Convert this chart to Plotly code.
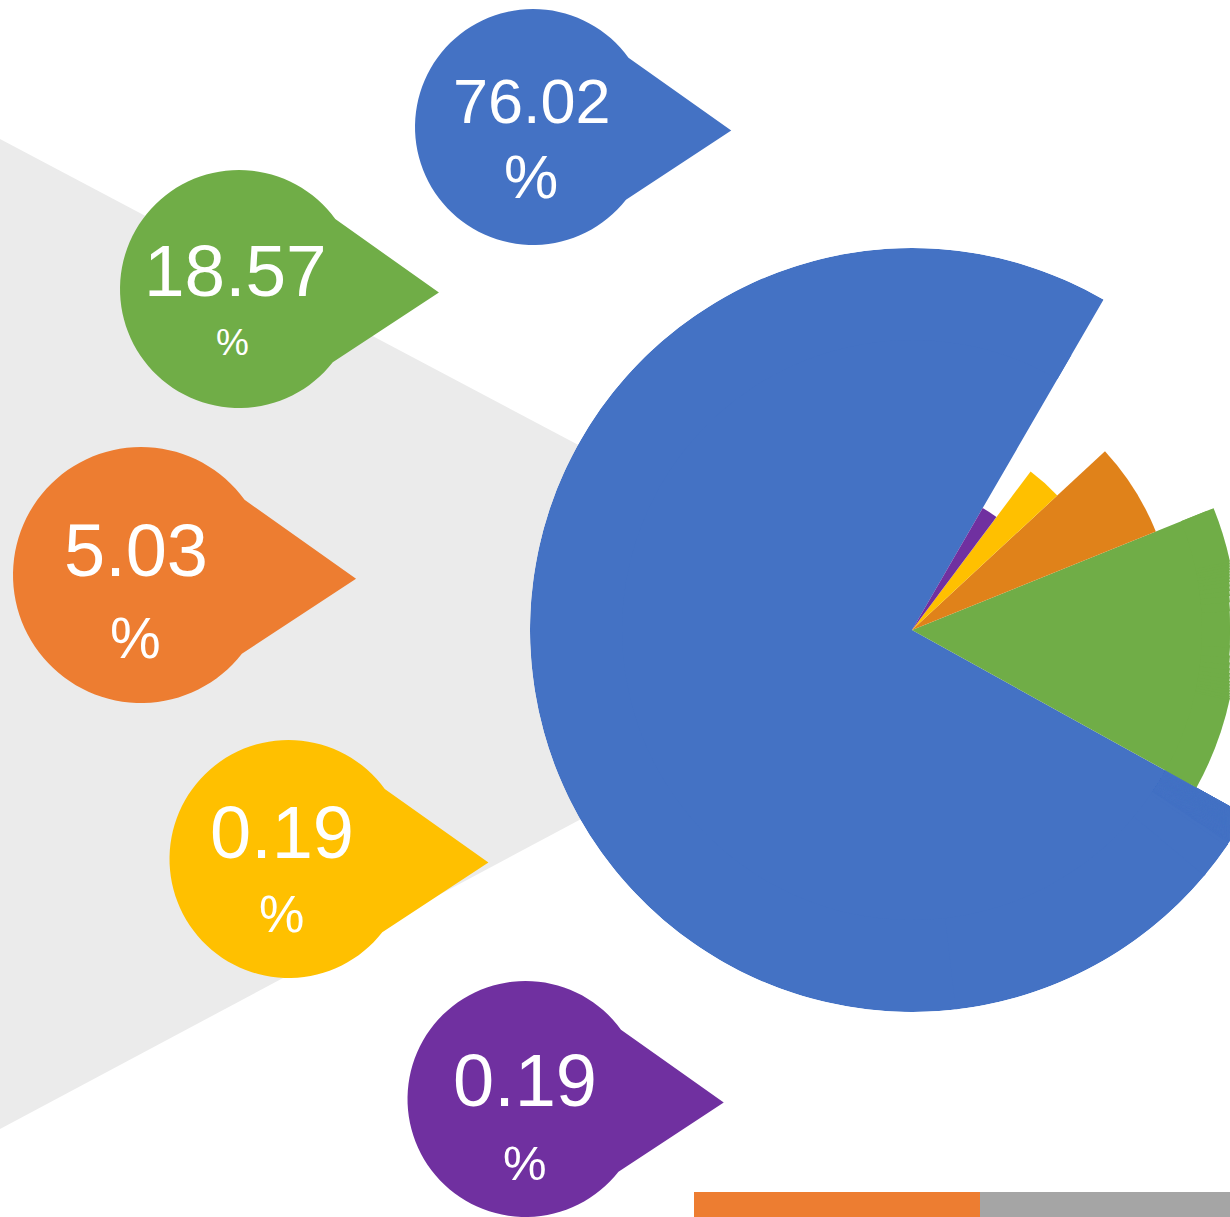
import math
import plotly.graph_objects as go

# ---------------- data ----------------
categories = ["Segment 1", "Segment 2", "Segment 3", "Segment 4", "Segment 5"]
shares = [76.02, 18.57, 5.03, 0.19, 0.19]
unit = "%"

# ---------------- styling / layout constants ----------------
W, H = 1230, 1217
slice_colors = ["#4472C4", "#70AD47", "#E0821A", "#FFC000", "#7030A0"]
pin_colors = ["#4472C4", "#70AD47", "#ED7D31", "#FFC000", "#7030A0"]
# drawn angular span (deg) and radius (px) of each sector in the graphic
slice_span_deg = [271.1, 51.0, 20.8, 10.4, 6.7]
slice_radius_px = [382, 326, 263, 198, 141]
ccw_order = [1, 2, 3, 4, 0]      # drawing order counter-clockwise
start_angle = -29.0              # where the first (green) sector begins
CX, CY = 912, 630                # pie centre in pixels

# label pins: centre x, centre y, radius (px)
pins = [(533, 127, 118), (239, 289, 119), (141, 575, 128), (288.5, 859, 119), (525.5, 1099, 118)]
# label text: (x, y, size) for the number line and the % line
num_pos = [(532, 101, 63), (235, 271, 73), (136, 550, 74), (282, 832, 74), (525, 1080, 74)]
pct_pos = [(531, 177, 61), (232, 343, 37), (135, 638, 57), (281, 914, 51), (525, 1163, 49)]

FONT = "Arial, Liberation Sans, sans-serif"
EDGE = W - CX - 0.01     # room between pie centre and right page edge (px)
PAD = 0.2                # angular overlap between neighbouring frames (deg)
TOL = 0.8                # allowed gap at the page edge (px)
OUTER_BASE = 290         # extension frames only draw the outer ring from here


def px(x, y):
    return f"{x / W:.5f},{1 - y / H:.5f}"


def clamp01(v):
    return min(1.0, max(0.0, v))


# angular positions of the sectors
theta = [0.0] * len(shares)
a = start_angle
for i in ccw_order:
    theta[i] = a + slice_span_deg[i] / 2
    a += slice_span_deg[i]


def sector_bbox(s0, s1):
    """unit-circle bounding box of a polar sector (same rule as plotly.js)"""
    arc = s1 - s0
    a0 = s0 % 360
    a1 = a0 + arc
    ax0, ay0 = math.cos(math.radians(a0)), math.sin(math.radians(a0))
    ax1, ay1 = math.cos(math.radians(a1)), math.sin(math.radians(a1))
    if (a0 <= 90 <= a1) or (a0 > 90 and a1 >= 450):
        y1 = 1
    elif ay0 <= 0 and ay1 <= 0:
        y1 = 0
    else:
        y1 = max(ay0, ay1)
    if (a0 <= 180 <= a1) or (a0 > 180 and a1 >= 540):
        x0 = -1
    elif ax0 >= 0 and ax1 >= 0:
        x0 = 0
    else:
        x0 = min(ax0, ax1)
    if (a0 <= 270 <= a1) or (a0 > 270 and a1 >= 630):
        y0 = -1
    elif ay0 >= 0 and ay1 >= 0:
        y0 = 0
    else:
        y0 = min(ay0, ay1)
    if a1 >= 360:
        x1 = 1
    elif ax0 <= 0 and ax1 <= 0:
        x1 = 0
    else:
        x1 = max(ax0, ax1)
    return x0, y0, x1, y1


def frame_radius(r, s0, s1):
    """largest polar frame for sector [s0,s1] that still fits left of the page edge"""
    x1 = sector_bbox(s0, s1)[2]
    return r if x1 <= 0 else min(r, EDGE / x1)


def needed(r, t):
    """visible radius of a slice of radius r at angle t (page edge cuts it)"""
    c = math.cos(math.radians(t))
    return r if c <= 0 else min(r, EDGE / c)


def polar_layout(R, sector):
    x0, y0, x1, y1 = sector_bbox(*sector)
    return dict(
        domain=dict(x=[clamp01((CX + x0 * R) / W), clamp01((CX + x1 * R) / W)],
                    y=[clamp01(1 - (CY - y0 * R) / H), clamp01(1 - (CY - y1 * R) / H)]),
        sector=list(sector),
        bgcolor="rgba(0,0,0,0)",
        angularaxis=dict(visible=False, direction="counterclockwise", rotation=0,
                         showgrid=False, showline=False),
        radialaxis=dict(visible=False, range=[0, R], showgrid=False, showline=False),
        bargap=0,
    )


# The pie runs off the right page edge, so it is drawn in several polar frames:
# one full frame holding every slice (cut at the page edge), plus sector frames
# that add the outer ring of the slices reaching beyond it.
frames = [((0, 360), EDGE, list(range(len(shares))), 0)]
for i in range(len(shares)):
    r = slice_radius_px[i]
    if r <= EDGE:
        continue
    a0 = theta[i] - slice_span_deg[i] / 2
    a1 = theta[i] + slice_span_deg[i] / 2
    s = a0
    while s < a1 - 1e-6:
        s1 = a1
        while True:
            R = frame_radius(r, s - PAD, s1 + PAD)
            gap = max(needed(r, s), needed(r, s1)) - R
            if gap <= TOL or s1 - s <= 0.05:
                break
            s1 = s + (s1 - s) * 0.8
        frames.append(((s - PAD, s1 + PAD), R, [i], OUTER_BASE))
        s = s1

fig = go.Figure()
layout_polars = {}
for k, (sector, R, idx, base) in enumerate(frames):
    name = "polar" if k == 0 else f"polar{k + 1}"
    fig.add_trace(go.Barpolar(
        r=[slice_radius_px[i] - base for i in idx],
        base=base,
        theta=[theta[i] for i in idx],
        width=[slice_span_deg[i] for i in idx],
        marker=dict(color=[slice_colors[i] for i in idx], line=dict(width=0)),
        customdata=[shares[i] for i in idx],
        text=[categories[i] for i in idx],
        hovertemplate="%{text}: %{customdata:.2f}%<extra></extra>",
        subplot=name,
        showlegend=False,
    ))
    layout_polars[name] = polar_layout(R, sector)

shapes = []
# background triangle
shapes.append(dict(type="path", xref="paper", yref="paper", layer="below",
                   path=f"M{px(0, 139)} L{px(0, 1129)} L{px(932, 632)} Z",
                   fillcolor="#EBEBEB", line=dict(width=0)))


def pin_path(cx, cy, r):
    a_top, a_bot = 36.0, -38.0
    pts = []
    n = 90
    for k in range(n + 1):
        ang = math.radians(a_top + (360 + a_bot - a_top) * k / n)
        pts.append((cx + r * math.cos(ang), cy - r * math.sin(ang)))
    tip = (cx + 1.68 * r, cy + 0.03 * r)
    d = "M" + px(*pts[0])
    for p in pts[1:]:
        d += " L" + px(*p)
    d += " L" + px(*tip) + " Z"
    return d


for i, (cx, cy, r) in enumerate(pins):
    shapes.append(dict(type="path", xref="paper", yref="paper", layer="above",
                       path=pin_path(cx, cy, r), fillcolor=pin_colors[i],
                       line=dict(width=0)))

# footer bars
shapes.append(dict(type="rect", xref="paper", yref="paper", layer="above",
                   x0=694 / W, x1=980 / W, y0=1 - 1217 / H, y1=1 - 1192 / H,
                   fillcolor="#ED7D31", line=dict(width=0)))
shapes.append(dict(type="rect", xref="paper", yref="paper", layer="above",
                   x0=980 / W, x1=1230 / W, y0=1 - 1217 / H, y1=1 - 1192 / H,
                   fillcolor="#A5A5A5", line=dict(width=0)))

annotations = []
for i, v in enumerate(shares):
    x, y, s = num_pos[i]
    annotations.append(dict(x=x / W, y=1 - y / H, xref="paper", yref="paper",
                            text=f"{v:.2f}", showarrow=False, xanchor="center",
                            yanchor="middle", font=dict(family=FONT, size=s, color="white")))
    x, y, s = pct_pos[i]
    annotations.append(dict(x=x / W, y=1 - y / H, xref="paper", yref="paper",
                            text=unit, showarrow=False, xanchor="center",
                            yanchor="middle", font=dict(family=FONT, size=s, color="white")))

fig.update_layout(
    width=W, height=H,
    margin=dict(l=0, r=0, t=0, b=0),
    paper_bgcolor="white",
    plot_bgcolor="white",
    showlegend=False,
    shapes=shapes,
    annotations=annotations,
    **layout_polars,
)

fig.write_html("out.html",
               config={"displayModeBar": False},
               post_script="document.body.style.margin='0';document.body.style.padding='0';")
